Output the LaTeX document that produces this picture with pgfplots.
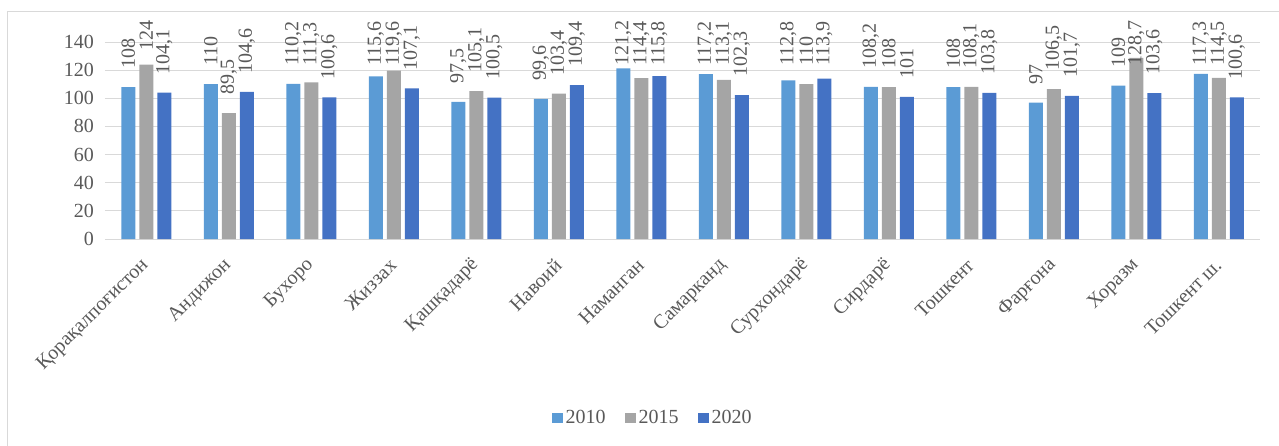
\documentclass[border=0pt]{standalone}
\usepackage{fontspec}
\setmainfont{Liberation Serif}
\usepackage{pgfplots}
\usepackage{pgfplotstable}
\pgfplotsset{compat=1.18}

\definecolor{c2010}{HTML}{5B9BD5}
\definecolor{c2015}{HTML}{A5A5A5}
\definecolor{c2020}{HTML}{4472C4}
\definecolor{txt}{HTML}{595959}
\definecolor{gridc}{HTML}{D9D9D9}
\newcommand{\fs}{\fontsize{15}{18}\selectfont}

% x = region index, y = value, s = label offset (pt)
\pgfplotstableread{
x y s
0 108 13.5
1 110 13.5
2 110.2 13.5
3 115.6 7.8
4 97.5 13.5
5 99.6 13.5
6 121.2 1.9
7 117.2 6.1
8 112.8 10.7
9 108.2 13.5
10 108 13.5
11 97 13.5
12 109 13.5
13 117.3 6.0
}\tA
\pgfplotstableread{
x y s
0 124 10.1
1 89.5 13.5
2 111.3 12.3
3 119.6 3.5
4 105.1 13.5
5 103.4 13.5
6 114.4 9.0
7 113.1 10.4
8 110 13.5
9 108 13.5
10 108.1 13.5
11 106.5 13.5
12 128.7 -6.1
13 114.5 8.9
}\tB
\pgfplotstableread{
x y s
0 104.1 13.5
1 104.6 13.5
2 100.6 13.5
3 107.1 13.5
4 100.5 13.5
5 109.4 13.5
6 115.8 7.6
7 102.3 13.5
8 113.9 9.5
9 101 13.5
10 103.8 13.5
11 101.7 13.5
12 103.6 13.5
13 100.6 13.5
}\tC

\begin{document}
\begin{tikzpicture}
\begin{axis}[
  at={(0,0)}, anchor=south west,
  scale only axis, width=866.25pt, height=147.75pt,
  xmin=-0.5, xmax=13.5, ymin=0, ymax=140,
  ytick={0,20,...,140},
  xtick={0,...,13},
  xticklabels={Қорақалпоғистон,Андижон,Бухоро,Жиззах,Қашқадарё,Навоий,Наманган,Самарканд,Сурхондарё,Сирдарё,Тошкент,Фарғона,Хоразм,Тошкент ш.},
  ybar=3pt, bar width=10.5pt,
  axis line style={draw=none},
  major tick length=0pt,
  ymajorgrids, grid style={color=gridc, line width=0.75pt},
  tick label style={font=\fs, text=txt},
  /pgf/number format/assume math mode=true,
  yticklabel style={xshift=-4.75pt},
  xticklabel style={xshift=2pt, yshift=-15pt, rotate=45, anchor=east},
  nodes near coords={\pgfmathprintnumber[use comma,fixed,precision=1]{\pgfplotspointmeta}},
  every node near coord/.append style={yshift={\lsh*1pt}, rotate=90, anchor=west, inner sep=0pt, font=\fs, text=txt},
  visualization depends on={\thisrow{s}\as\lsh},
  clip=false,
  legend columns=3,
  legend style={at={(0.4745,-0.9086)}, anchor=center, draw=none, font=\fs, text=txt,
    /tikz/every even column/.append style={column sep=12.5pt}},
  legend image code/.code={\fill[#1] (0pt,-4.1pt) rectangle (8.25pt,4.1pt);},
]
\addplot[fill=c2010, draw=none] table[x=x,y=y] {\tA};
\addplot[fill=c2015, draw=none] table[x=x,y=y] {\tB};
\addplot[fill=c2020, draw=none] table[x=x,y=y] {\tC};
\legend{2010,2015,2020}
\end{axis}
\draw[gridc, line width=0.75pt] (-72.75pt,-170pt) -- (-72.75pt,170.25pt) -- (890pt,170.25pt);
\pgfresetboundingbox
\path[use as bounding box] (-78.75pt,-155.25pt) rectangle (880.5pt,179.25pt);
\end{tikzpicture}
\end{document}
